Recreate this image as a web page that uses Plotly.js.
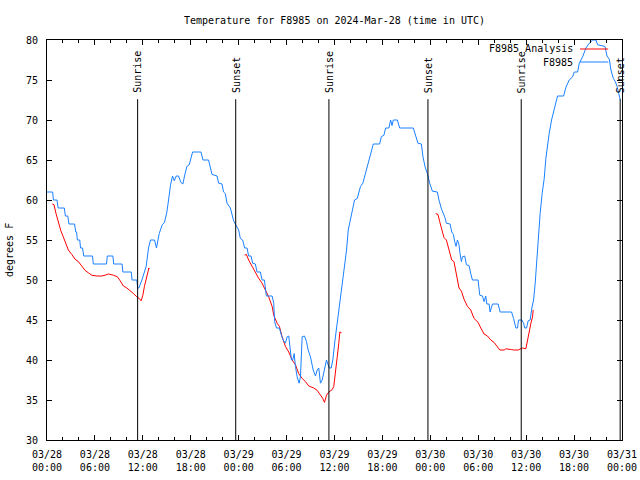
<!DOCTYPE html>
<html>
<head>
<meta charset="utf-8">
<script src="https://cdn.plot.ly/plotly-3.0.1.min.js"></script>
<style>html,body{margin:0;padding:0;background:#fff;}#chart{width:640px;height:480px;}</style>
</head>
<body>
<div id="chart"></div>
<script>
// Hours after 2024-03-28 00:00 UTC
var obsHours = [0,0.71,0.8,1.25,1.4,2.17,2.3,2.6,2.75,3.45,
  3.6,3.7,3.8,4.1,4.2,4.45,4.6,5.7,5.8,7.45,
  7.55,8.25,8.35,9.4,9.5,10.55,10.65,11.25,11.35,11.5,
  11.88,12.42,12.71,12.96,13.46,13.71,14.05,14.43,14.71,15.01,
  15.22,15.47,15.72,15.93,16.18,16.47,16.77,17.02,17.22,17.52,
  17.81,18.23,19.28,19.53,20.23,20.66,21.29,21.49,21.91,22.11,
  22.33,22.54,22.96,23.17,23.37,23.58,24.0,24.21,24.5,24.75,
  25.05,25.25,25.55,25.75,26.09,26.3,26.72,26.93,27.22,27.47,
  28.19,28.39,28.51,28.73,29.1,29.35,29.57,29.85,30.07,30.27,
  30.48,30.61,30.77,30.95,31.11,31.32,31.57,31.74,31.95,32.24,
  32.49,32.7,32.99,33.33,33.62,33.83,34.03,34.24,34.46,34.66,
  35.0,35.16,35.37,35.59,35.79,36.04,36.34,36.63,36.97,37.26,
  37.51,37.72,37.92,38.22,38.51,38.85,39.26,39.55,39.89,40.3,
  40.6,40.86,41.65,41.86,42.19,42.4,42.81,43.03,43.2,43.36,
  43.87,44.16,45.87,46.16,46.45,46.88,47.08,47.33,47.63,47.92,
  48.26,48.88,49.08,49.42,49.8,50.01,50.47,50.68,50.89,51.05,
  51.22,51.39,51.59,51.72,51.89,52.02,52.31,52.52,52.85,53.06,
  53.27,53.98,54.19,54.53,54.73,54.94,55.07,55.36,55.48,55.78,
  56.49,56.74,58.17,58.42,58.71,58.92,59.04,59.46,59.67,59.83,
  60.05,60.25,60.5,60.71,60.93,61.13,61.34,61.55,61.75,62.0,
  62.25,62.47,62.68,62.88,63.18,63.51,63.93,64.69,64.98,65.39,
  65.82,66.02,66.44,66.65,67.07,67.49,67.9,68.33,68.74,68.95,
  69.87,70.12,70.41,70.62,70.91,71.16,71.38,71.59,71.79];
var obsTempF = [61,61,60,60,59,59,58,58,57,57,
  56,56,55,55,54,54,53,53,52,52,
  53,53,52,52,51,51,50,50,49,49,
  50,51.7,54,55,55,54,55.8,56.9,57.2,58.5,
  60,61.9,63,62.4,63,63,62.2,62,63,64.2,
  64.4,66,66,65,65,63.2,63,62.1,62,61,
  60.8,59.6,59,58,57.4,57,56.25,55.2,55,54,
  54,53,53,52.1,52,51,51,50,50,48,
  48,47.1,44.8,44,44,43.1,42.5,42.1,42.9,43,
  41.25,40,40,40.8,39.2,37.9,37.1,37.9,42.9,43,
  42.3,41.25,40.4,38.75,38,38.75,39,37.1,37.5,38.5,
  40,39.5,39,39,40,42.3,44.6,47.1,49.6,51.9,
  53.75,56.25,57.3,58.5,60,60.2,61.7,62.1,63.3,64.8,
  65.8,67,67,67.9,68.1,69,69,70,69.3,70,
  70,69,69,68.1,67.1,67,65.4,64.2,63.3,62.1,
  61.1,61,60,58.8,57.9,57.1,57,56,55.7,54.8,
  54.2,55,54.4,53.3,52.3,52.9,53,51.9,51.8,50.8,
  50,50,48.1,48,47.3,48,47,47,46,47,
  47,46,46,45.2,44,44,45,45,44.6,44,
  44,44.9,45,46.5,47.5,49.6,52.9,55.4,58.3,60.8,
  62.6,65.2,67.1,68.3,70,71.5,73,73,74.1,75,
  75.4,76,76,77.1,77.9,79,79.6,80,80,79.4,
  79.2,78,77.6,76.25,75.2,74.8,74.2,73.3,72.5];

var anaHours = [0.66,0.88,1.13,1.42,1.72,2.04,2.38,2.67,3.1,3.51,
  3.93,4.35,4.77,5.18,5.61,6.23,6.86,7.28,7.69,8.32,
  8.82,9.16,9.57,10.0,10.41,10.83,11.25,11.54,11.79,12.0,
  12.2,12.42,12.58,12.76,12.83,
  18.5,
  24.75,24.96,25.25,25.68,26.09,26.51,26.93,27.35,27.76,28.19,
  28.39,28.81,29.1,29.44,29.85,30.27,30.7,31.11,31.52,31.95,
  32.36,32.78,33.4,33.83,34.24,34.53,34.75,35.0,35.29,35.71,
  35.91,36.13,36.34,36.54,36.67,36.88,
  42.5,
  48.67,48.96,49.17,49.42,49.71,50.01,50.34,50.68,50.96,51.27,
  51.59,51.89,52.22,52.65,53.06,53.47,53.98,54.32,54.73,55.16,
  55.57,55.98,56.41,56.7,57.24,57.45,58.17,58.42,59.0,59.34,
  59.55,59.96,60.17,60.38,60.59,60.8,60.88];
var anaTempF = [59.5,59.4,58.3,57.1,56.2,55.4,54.6,53.75,53.2,52.6,
  52.3,51.7,51.2,50.9,50.6,50.5,50.5,50.6,50.75,50.6,
  50.4,49.9,49.25,49,48.7,48.3,47.9,47.7,47.4,48.1,
  49.2,50.1,50.8,51.5,51.4,
  null,
  53.1,53.2,52.5,51.7,51,50.2,49.6,48.75,47.9,46.7,
  45.6,44.6,44.2,42.9,41.7,41,40,39.4,38.3,37.7,
  37.3,36.75,36.5,36.2,35.6,35.2,34.7,35.6,36,36.3,
  36.7,38.3,40.4,42.1,43.5,43.4,
  null,
  58.3,58.2,57.3,56.25,55.3,55,53.75,52.5,52.3,50.8,
  49,48.6,47.6,46.7,46.25,45.2,44.7,44,43.25,43,
  42.5,42.2,41.7,41.25,41.25,41.4,41.3,41.25,41.25,41.4,
  41.5,41.4,42.3,43.5,44.6,45.4,46.25];

var sunHours = [11.35, 23.63, 35.3, 47.7, 59.38, 71.77];
var sunLabels = ['Sunrise','Sunset','Sunrise','Sunset','Sunrise','Sunset'];

var seriesNames = ['F8985 Analysis', 'F8985'];
var seriesColors = ['#ff0000', '#1a80ff'];
var titleText = 'Temperature for F8985 on 2024-Mar-28 (time in UTC)';
var yLabel = 'degrees F';

var T0 = Date.UTC(2024, 2, 28, 0, 0, 0);
function toTime(h) { return T0 + h * 3600000; }

var FONT = 'DejaVu Sans Mono, Liberation Mono, monospace';

var traces = [
  { x: anaHours.map(toTime), y: anaTempF, type: 'scatter', mode: 'lines',
    name: seriesNames[0], line: { color: seriesColors[0], width: 1 }, connectgaps: false },
  { x: obsHours.map(toTime), y: obsTempF, type: 'scatter', mode: 'lines',
    name: seriesNames[1], line: { color: seriesColors[1], width: 1 } }
];

var shapes = [];
var annotations = [];
sunHours.forEach(function (h, i) {
  shapes.push({ type: 'line', xref: 'x', yref: 'paper', x0: toTime(h), x1: toTime(h),
    y0: 0, y1: 0.852, line: { color: '#000', width: 1 } });
  annotations.push({ x: toTime(h), xref: 'x', y: 0.862, yref: 'paper', text: sunLabels[i],
    textangle: -90, showarrow: false, xanchor: 'center', yanchor: 'bottom',
    font: { family: FONT, size: 10, color: '#000' } });
});

// legend (text left of sample line)
var legY = [0.9775, 0.945];
seriesNames.forEach(function (n, i) {
  annotations.push({ x: 0.918, xref: 'paper', y: legY[i], yref: 'paper', text: n,
    showarrow: false, xanchor: 'right', yanchor: 'middle',
    font: { family: FONT, size: 10, color: '#000' } });
  shapes.push({ type: 'line', xref: 'paper', yref: 'paper', x0: 0.927, x1: 0.976,
    y0: legY[i], y1: legY[i], line: { color: seriesColors[i], width: 1 } });
});

annotations.push({ x: 0, xref: 'paper', xshift: -38, y: 0.475, yref: 'paper', text: yLabel,
  textangle: -90, showarrow: false, xanchor: 'center', yanchor: 'middle',
  font: { family: FONT, size: 10, color: '#000' } });

var layout = {
  width: 640, height: 480,
  margin: { l: 47, r: 18, t: 40, b: 40, pad: 0 },
  paper_bgcolor: '#fff', plot_bgcolor: '#fff',
  showlegend: false,
  font: { family: FONT, size: 10, color: '#000' },
  title: { text: titleText, xref: 'paper', x: 0.5, xanchor: 'center',
    yref: 'container', y: 1 - 20 / 480, yanchor: 'middle',
    font: { family: FONT, size: 10, color: '#000' } },
  xaxis: {
    type: 'date', range: [toTime(0), toTime(72)],
    showline: true, linecolor: '#000', linewidth: 1, mirror: 'ticks',
    ticks: 'inside', ticklen: 5, tickcolor: '#000', tickwidth: 1,
    tick0: toTime(0), dtick: 6 * 3600000, tickformat: '%m/%d<br>%H:%M',
    minor: { dtick: 2 * 3600000, ticks: 'inside', ticklen: 3, tickcolor: '#000', showgrid: false },
    showgrid: false, zeroline: false, ticklabelstandoff: 5,
    tickfont: { family: FONT, size: 10, color: '#000' }
  },
  yaxis: {
    range: [30, 80], tick0: 30, dtick: 5,
    showline: true, linecolor: '#000', linewidth: 1, mirror: 'ticks',
    ticks: 'inside', ticklen: 5, tickcolor: '#000', tickwidth: 1,
    showgrid: false, zeroline: false, ticklabelstandoff: 6,
    tickfont: { family: FONT, size: 10, color: '#000' }
  },
  shapes: shapes,
  annotations: annotations
};

Plotly.newPlot('chart', traces, layout, { staticPlot: true });
</script>
</body>
</html>
